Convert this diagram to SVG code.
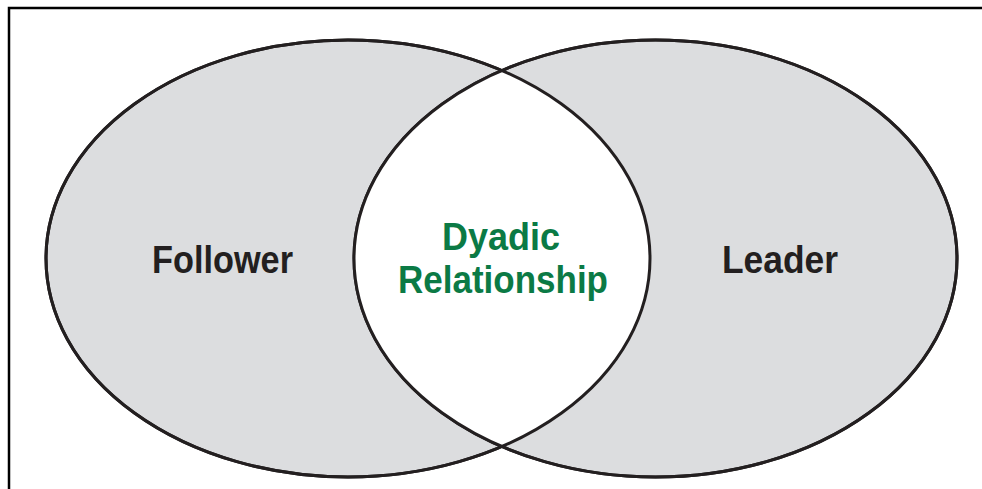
<svg xmlns="http://www.w3.org/2000/svg" width="982" height="489" viewBox="0 0 982 489">
  <style>
    .circle { fill: #dcdddf; stroke: #231f20; stroke-width: 3; }
    .lens { fill: #ffffff; stroke: none; }
    .outline { fill: none; stroke: #231f20; stroke-width: 3; }
    .label { font-family: "Liberation Sans", Arial, sans-serif; font-weight: bold; font-size: 38.5px; text-anchor: middle; }
    .party { fill: #231f20; }
    .shared { fill: #0b7a45; }
  </style>
  <defs>
    <clipPath id="leftClip">
      <ellipse cx="348" cy="258.5" rx="302" ry="218.5"/>
    </clipPath>
  </defs>

  <!-- frame (only the top and left edges fall inside the canvas) -->
  <rect x="9" y="8" width="1000" height="500" fill="#ffffff" stroke="#000000" stroke-width="2.5"/>

  <!-- the two overlapping sets -->
  <g id="follower">
    <ellipse class="circle" cx="348" cy="258.5" rx="302" ry="218.5"/>
  </g>
  <g id="leader">
    <ellipse class="circle" cx="655.5" cy="258.5" rx="301.5" ry="218.5"/>
  </g>

  <!-- overlap region left blank, then both outlines redrawn on top -->
  <g id="dyadic-relationship">
    <ellipse class="lens" cx="655.5" cy="258.5" rx="301.5" ry="218.5" clip-path="url(#leftClip)"/>
    <ellipse class="outline" cx="348" cy="258.5" rx="302" ry="218.5"/>
    <ellipse class="outline" cx="655.5" cy="258.5" rx="301.5" ry="218.5"/>
    <text class="label shared" x="501" y="250" textLength="118" lengthAdjust="spacingAndGlyphs">Dyadic</text>
    <text class="label shared" x="503" y="293" textLength="210" lengthAdjust="spacingAndGlyphs">Relationship</text>
  </g>

  <g id="follower-label">
    <text class="label party" x="222.5" y="273" textLength="141" lengthAdjust="spacingAndGlyphs">Follower</text>
  </g>
  <g id="leader-label">
    <text class="label party" x="780" y="273" textLength="116" lengthAdjust="spacingAndGlyphs">Leader</text>
  </g>

  <!-- no connectors in this diagram -->
  <g id="connectors"/>
</svg>
